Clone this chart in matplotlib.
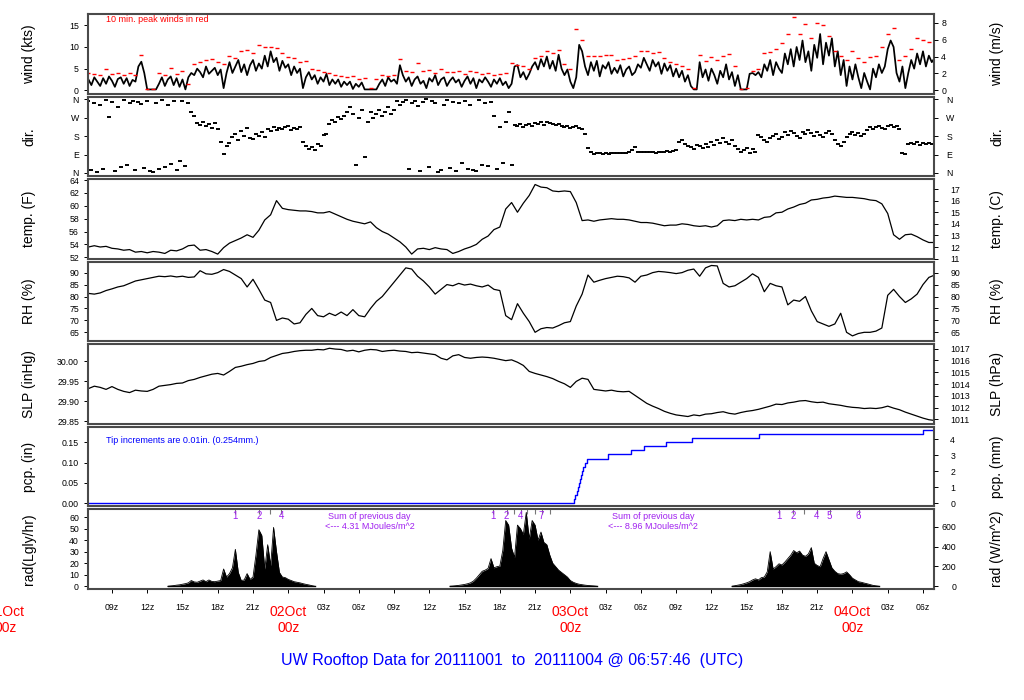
import numpy as np
import matplotlib
matplotlib.use("Agg")
import matplotlib.pyplot as plt

plt.rcParams['font.family'] = ['Liberation Sans', 'DejaVu Sans']

# ---------------- data (hours since 2011-10-01 00z) ----------------
T_FIRST = 7.0          # first sample hour
STEP15 = 0.25          # wind / direction sampling (h)
STEP30 = 0.5           # peak wind, temp, RH, SLP sampling (h)

wind_kts = [
    2.5, 1.2, 3.0, 2.0,  1.0, 2.8, 1.5, 3.2,  2.2, 0.8, 2.6, 3.0,  1.5, 2.8, 1.0, 2.4,
    2.0, 5.5, 6.6, 4.0,  0.2, 0.2, 0.2, 0.2,  1.5, 3.0, 1.0, 2.5,  3.2, 1.2, 2.8, 0.8,
    2.5, 0.2, 3.0, 4.0,  3.5, 5.0, 4.2, 3.0,  5.5, 3.8, 4.5, 5.2,  3.5, 4.8, 0.5, 4.0,
    6.5, 4.0, 5.5, 7.0,  4.2, 6.0, 3.5, 5.8,  7.0, 4.5, 6.2, 5.0,  8.0, 5.5, 9.0, 6.5,
    7.5, 4.5, 6.8, 5.2,  6.0, 3.5, 5.5, 4.0,  5.0, 0.5, 3.0, 4.2,  2.5, 3.5, 1.5, 3.0,
    2.0, 3.8, 1.2, 2.5,  1.5, 2.5, 0.8, 2.0,  1.2, 2.0, 0.3, 1.5,  0.8, 1.8, 0.2, 0.2,
    0.2, 0.2, 0.2, 1.5,  2.5, 1.0, 3.0, 2.0,  2.5, 1.5, 5.8, 3.5,  2.0, 3.0, 1.0, 2.5,
    3.2, 1.5, 2.2, 0.5,  2.8, 2.0, 3.5, 1.2,  2.5, 3.0, 1.0, 2.2,  3.0, 1.8, 2.5, 0.8,
    2.2, 3.2, 1.5, 2.8,  0.5, 2.5, 1.8, 3.0,  2.0, 0.8, 2.5, 1.5,  2.8, 1.2, 2.0, 0.5,
    1.5, 5.5, 5.8, 3.0,  4.2, 2.5, 3.8, 5.5,  6.5, 4.8, 7.2, 5.5,  7.8, 5.0, 6.8, 4.5,
    8.2, 5.0, 3.5, 4.8,  2.0, 0.5, 3.0, 10.5, 9.0, 5.5, 3.5, 6.5,  4.5, 6.8, 3.2, 5.8,
    5.0, 6.5, 3.8, 5.2,  4.0, 5.8, 3.2, 4.8,  5.5, 3.5, 4.2, 6.0,  5.2, 7.5, 6.0, 4.5,
    7.0, 5.5, 6.5, 3.8,  6.2, 4.5, 5.8, 3.2,  5.0, 3.0, 4.5, 2.0,  3.5, 1.0, 0.2, 0.2,
    6.5, 3.0, 4.8, 2.2,  5.0, 3.5, 1.5, 4.5,  3.0, 6.0, 2.5, 4.2,  1.0, 3.5, 0.2, 0.2,
    0.2, 3.8, 4.0, 3.5,  4.2, 3.0, 6.0, 4.5,  7.0, 3.5, 6.5, 5.0,  4.0, 8.5, 6.0, 9.5,
    5.5, 10.0, 7.0, 11.5, 6.5, 9.0, 4.5, 10.5, 7.5, 13.0, 6.0, 11.0, 8.0, 12.0, 5.5, 9.0,
    3.5, 7.0, 1.0, 5.5,  2.5, 6.0, 3.0, 0.5,  4.0, 2.0, 0.2, 5.0,  3.0, 6.0, 4.0, 5.5,
    9.5, 11.5, 10.0, 4.0, 2.0, 5.5, 0.5, 4.0, 7.0, 5.0, 8.5, 6.0,  9.0, 5.5, 8.0, 6.5,
    7.5]

peak_kts = [
    4.0, 3.8,  3.5, 5.0,  3.8, 4.0,  3.6, 4.0,  3.5, 8.2,  0.2, 0.2,  4.0, 3.5,  5.2, 3.8,
    4.5, 1.5,  6.0, 6.5,  7.0, 7.3,  6.5, 6.0,  8.0, 7.5,  9.0, 9.2,  8.5, 10.4, 10.0, 10.0,
    9.8, 8.5,  7.8, 7.5,  6.5, 6.8,  5.0, 4.8,  4.2, 4.0,  3.5, 3.2,  3.0, 3.3,  2.5, 2.8,
    0.5, 2.5,  3.5, 3.3,  3.5, 7.2,  4.5, 4.2,  6.2, 4.5,  4.8, 4.0,  5.0, 4.2,  4.2, 4.5,
    3.8, 4.5,  4.2, 3.8,  4.0, 3.5,  3.8, 4.0,  6.2, 5.8,  5.5, 5.0,  7.5, 8.0,  9.0, 8.5,
    9.2, 6.0,  5.0, 14.2, 11.5, 8.0, 8.0, 8.0,  8.2, 8.2,  7.0, 7.2,  7.5, 8.0,  9.0, 9.0,
    8.5, 8.8,  7.5, 6.5,  6.0, 5.5,  5.0, 0.5,  8.2, 6.8,  7.8, 7.0,  8.0, 8.3,  5.5, 0.2,
    0.5, 4.5,  5.0, 8.5,  8.8, 9.5,  11.0, 13.0, 17.0, 13.0, 15.3, 12.0, 15.5, 15.0, 12.5, 9.0,
    8.0, 7.0,  9.0, 7.5,  6.5, 7.8,  8.0, 10.0, 13.0, 14.5, 7.0, 8.0,  9.5, 12.0, 11.5, 11.2,
    10.5]

dir_deg = [
    350, 15, 340, 5,   330, 20, 355, 275,  345, 10, 320, 30,  355, 40, 340, 350,
    15, 345, 335, 25,  350, 10, 5, 340,    20, 355, 30, 330,  45, 350, 15, 60,
    350, 35, 340, 300, 280, 245, 235, 250, 230, 240, 220, 245, 215, 150, 95, 130,
    145, 175, 190, 160, 205, 180, 220, 170, 165, 190, 180, 200, 175, 215, 205, 225,
    210, 220, 215, 225, 230, 210, 220, 215, 225, 150, 130, 115, 125, 110, 140, 130,
    185, 190, 240, 260, 250, 275, 265, 280, 300, 320, 290, 40,  270, 310, 80, 250,
    300, 270, 290, 310, 280, 300, 320, 290, 310, 350, 330, 345, 355, 20, 340, 350,
    325, 10, 345, 360, 30, 350, 340, 5,    15, 330, 355, 25,   345, 10, 340, 50,
    350, 20, 330, 15,  10, 355, 40, 340,   35, 345, 280, 20,  225, 50, 250, 300,
    40, 235, 230, 240, 225, 235, 240, 230, 245, 240, 250, 235, 250, 245, 240, 235,
    240, 230, 225, 230, 220, 225, 230, 220, 215, 190, 120, 105, 95, 98, 96, 95,
    97, 95, 98, 96,    100, 97, 96, 99,   102, 110, 125, 105, 104, 103, 105, 102,
    104, 100, 105, 102, 103, 106, 104, 108, 110, 150, 160, 140, 130, 125, 115, 135,
    130, 120, 140, 125, 150, 135, 160, 145, 170, 150, 140, 160, 130, 115, 105, 110,
    120, 100, 115, 105, 185, 175, 160, 150, 170, 180, 190, 165, 175, 200, 185, 205,
    195, 180, 170, 200, 190, 210, 195, 180, 200, 185, 175, 195, 205, 190, 160, 140,
    130, 150, 175, 190, 200, 185, 195, 180, 190, 210, 225, 215, 225, 230, 220, 215,
    230, 235, 225, 230, 215, 100, 95, 140, 145, 140, 150, 137, 145, 140, 148, 142,
    145]

temp_F = [
    53.6, 53.8, 53.6, 53.7, 53.4, 53.3, 53.1, 53.2, 52.8, 52.9, 52.7, 52.9, 52.8, 52.6,
    53.1, 53.0, 53.3, 53.8, 53.9, 53.1, 53.2, 52.9, 52.5, 53.5, 54.2, 54.6, 55.0, 55.5,
    55.1, 56.2, 57.8, 58.6, 60.8, 59.6, 59.4, 59.3, 59.2, 59.2, 59.1, 58.9, 58.9, 59.1,
    58.7, 58.3, 57.9, 57.6, 57.4, 57.2, 57.5, 56.6, 56.0, 55.6, 55.0, 54.4, 53.6, 52.5,
    53.3, 53.4, 53.2, 53.5, 53.3, 53.2, 52.6, 52.9, 53.3, 53.6, 54.0, 54.8, 55.3, 56.3,
    56.7, 59.5, 60.5, 59.0, 60.4, 61.6, 63.3, 62.9, 62.8, 62.3, 62.2, 62.3, 62.2, 60.5,
    57.7, 57.8, 57.6, 57.8, 57.9, 58.0, 57.9, 57.9, 57.8, 57.6, 57.4, 57.4, 57.3, 57.1,
    56.9, 57.0, 57.0, 57.2, 57.1, 56.9, 56.8, 56.9, 56.7, 56.9, 57.7, 57.8, 57.7, 57.9,
    57.8, 57.9, 57.8, 58.2, 58.3, 58.9, 59.0, 59.5, 59.8, 60.2, 60.4, 60.9, 61.0, 61.2,
    61.3, 61.5, 61.4, 61.3, 61.3, 61.2, 61.1, 60.9, 60.8, 60.3, 58.8, 55.5, 54.8, 55.5,
    55.6, 55.2, 54.7, 54.3, 54.3]

rh_pct = [
    81.3, 81.0, 81.5, 82.5, 83.2, 84.0, 84.5, 85.5, 86.5, 87.0, 87.5, 88.0, 88.5, 88.3,
    88.6, 88.2, 88.5, 88.0, 88.2, 90.8, 89.5, 89.3, 90.0, 91.3, 90.5, 89.0, 87.5, 84.0,
    87.2, 83.0, 78.5, 77.5, 70.0, 71.0, 70.5, 68.5, 69.0, 72.5, 75.0, 72.0, 71.5, 73.0,
    72.0, 73.5, 72.0, 74.5, 72.0, 71.5, 75.0, 78.0, 80.0, 83.0, 86.0, 89.0, 92.0, 91.5,
    88.5, 86.5, 84.0, 81.0, 83.0, 85.0, 84.5, 85.5, 84.8, 85.2, 84.5, 84.0, 84.8, 83.0,
    82.5, 72.0, 70.3, 77.0, 73.0, 69.5, 65.0, 66.5, 67.0, 66.8, 67.8, 69.0, 69.5, 76.0,
    81.0, 89.0, 86.0, 86.8, 87.5, 88.0, 88.5, 88.3, 87.8, 86.0, 88.5, 89.0, 90.0, 90.5,
    90.3, 90.0, 89.6, 90.0, 91.0, 91.5, 88.5, 92.0, 93.0, 92.8, 85.5, 84.0, 84.5, 86.0,
    87.5, 89.5, 88.0, 82.0, 85.5, 84.5, 84.0, 76.5, 78.5, 78.0, 80.0, 74.0, 69.5, 68.5,
    67.5, 68.5, 73.0, 65.0, 63.5, 64.5, 65.0, 65.0, 65.5, 66.8, 80.5, 83.0, 80.0, 77.5,
    79.0, 81.0, 85.0, 88.0, 89.0]

slp_inhg = [
    29.932, 29.938, 29.935, 29.930, 29.937, 29.930, 29.925, 29.922, 29.928, 29.926,
    29.925, 29.930, 29.938, 29.940, 29.942, 29.945, 29.946, 29.952, 29.955, 29.960,
    29.964, 29.968, 29.970, 29.966, 29.975, 29.985, 29.988, 29.992, 29.995, 30.000,
    30.002, 30.010, 30.015, 30.020, 30.022, 30.025, 30.027, 30.028, 30.028, 30.030,
    30.029, 30.033, 30.031, 30.030, 30.026, 30.028, 30.024, 30.028, 30.030, 30.029,
    30.025, 30.027, 30.028, 30.026, 30.025, 30.022, 30.023, 30.021, 30.019, 30.017,
    30.008, 30.004, 30.014, 30.017, 30.010, 30.008, 30.010, 30.011, 30.010, 30.008,
    30.005, 30.002, 30.004, 29.998, 29.990, 29.975, 29.970, 29.966, 29.962, 29.957,
    29.950, 29.944, 29.935, 29.950, 29.958, 29.955, 29.930, 29.928, 29.926, 29.928,
    29.925, 29.924, 29.925, 29.915, 29.905, 29.895, 29.888, 29.882, 29.875, 29.870,
    29.866, 29.864, 29.862, 29.866, 29.864, 29.868, 29.869, 29.872, 29.874, 29.870,
    29.868, 29.872, 29.875, 29.877, 29.880, 29.884, 29.888, 29.893, 29.892, 29.896,
    29.898, 29.901, 29.902, 29.899, 29.897, 29.898, 29.894, 29.892, 29.890, 29.887,
    29.885, 29.884, 29.882, 29.883, 29.882, 29.884, 29.888, 29.883, 29.879, 29.873,
    29.868, 29.863, 29.858, 29.854, 29.852]

# cumulative precipitation (tipping bucket, 0.01 in per tip)
pcp_hours = [7.0, 48.30, 48.42, 48.59, 48.65, 48.72, 48.82, 48.90, 48.99, 49.10, 49.24,
             49.44, 51.23, 53.16, 54.27, 56.11, 58.33, 64.06, 77.97, 79.0]
pcp_in = [0.00, 0.01, 0.02, 0.03, 0.04, 0.05, 0.06, 0.07, 0.08, 0.09, 0.10,
          0.11, 0.12, 0.13, 0.14, 0.15, 0.16, 0.17, 0.18, 0.18]

# solar radiation (Langley/hr), 15-min samples for each daylight period
rad_starts = [13.75, 37.75, 61.75]
rad_day1 = [0.0, 0.3, 0.6, 1.0, 1.3, 1.8, 2.3, 3.0, 5.0, 3.8, 3.5, 4.5, 5.5, 4.0, 5.5, 4.2, 4.0,
            4.5, 5.0, 15.0, 8.0, 11.0, 16.0, 32.0, 12.0, 5.0, 5.5, 11.0, 6.0, 8.0, 27.0, 49.0,
            44.0, 15.0, 36.0, 18.0, 51.0, 30.0, 12.0, 8.0, 7.5, 6.0, 5.0, 4.0, 3.5, 3.0, 2.3,
            1.7, 1.2, 0.6, 0.0]
rad_day2 = [0.0, 0.2, 0.5, 0.8, 1.2, 1.6, 2.2, 3.0, 4.5, 7.0, 10.0, 13.0, 14.0, 15.5, 24.0,
            16.0, 17.0, 17.5, 31.0, 57.0, 53.0, 33.0, 25.0, 53.0, 50.0, 45.0, 64.0, 41.0, 57.0,
            53.0, 40.0, 47.0, 38.0, 36.0, 27.0, 20.0, 17.0, 14.0, 12.0, 10.0, 8.0, 5.0, 3.5,
            2.5, 1.8, 1.4, 1.0, 0.7, 0.5, 0.3, 0.0]
rad_day3 = [0.0, 0.5, 1.0, 1.5, 2.2, 3.0, 4.0, 5.5, 6.5, 5.5, 7.5, 8.0, 12.5, 30.0, 15.0, 17.0,
            19.5, 18.5, 21.0, 24.0, 27.0, 31.0, 29.0, 30.5, 27.0, 26.0, 28.0, 33.5, 20.0, 18.0,
            17.0, 24.0, 30.0, 23.0, 16.0, 13.0, 11.0, 10.5, 11.0, 12.5, 10.0, 7.0, 5.5, 4.0,
            3.5, 2.8, 2.2, 1.5, 0.8, 0.4, 0.0]
rad_days = [rad_day1, rad_day2, rad_day3]

rad_mark_hours = [19.43, 21.50, 22.47, 23.41, 41.38, 42.57, 43.19, 43.76, 44.33, 44.98,
                  45.55, 46.26, 65.71, 66.93, 67.90, 68.98, 70.05, 72.52]
rad_mark_labels = ['1', '2', '', '4', '1', '2', '', '4', '', '', '7', '', '1', '2', '',
                   '4', '5', '6']
sum_hours = [30.93, 55.03]
sum_mj = [4.31, 8.96]

day_hours = [0, 24, 48, 72]
day_names = ['01Oct', '02Oct', '03Oct', '04Oct']
X_START, X_END = 6.9628, 78.9628   # 06:57:46 Oct 1 .. 06:57:46 Oct 4
title = "UW Rooftop Data for 20111001  to  20111004 @ 06:57:46  (UTC)"

# ---------------- figure ----------------
W, H = 1024, 700
fig = plt.figure(figsize=(W / 100, H / 100), dpi=100)
PX = 0.72
LEFT, RIGHT = 88.0, 934.3
TOP0, PSTEP, PH = 14.0, 82.55, 79.5
TICK_FS = 6.3
LAB_FS = 10

t15 = T_FIRST + STEP15 * np.arange(len(wind_kts))
t30 = T_FIRST + STEP30 * np.arange(len(temp_F))


def panel(i, ylim, left_label, right_label):
    top = TOP0 + i * PSTEP
    ax = fig.add_axes([LEFT / W, 1 - (top + PH) / H, (RIGHT - LEFT) / W, PH / H])
    ax.set_xlim(X_START, X_END)
    ax.set_ylim(*ylim)
    for s in ax.spines.values():
        s.set_linewidth(1.5)
        s.set_color('#4a4a4a')
    ax.tick_params(axis='y', direction='out', length=4 * PX, width=0.7,
                   labelsize=TICK_FS, pad=5 * PX)
    ax.tick_params(axis='x', bottom=False, labelbottom=False)
    yc = 1 - (top + PH / 2) / H
    fig.text(29 / W, yc, left_label, rotation=90, ha='center', va='center', fontsize=LAB_FS)
    fig.text(997 / W, yc, right_label, rotation=90, ha='center', va='center', fontsize=LAB_FS)
    return ax


def right_axis(ax, f, ticks, labels=None, pad_px=3, ha='left'):
    ax2 = ax.twinx()
    lo, hi = ax.get_ylim()
    ax2.set_ylim(f(lo), f(hi))
    ax2.set_yticks(ticks)
    if labels is not None:
        ax2.set_yticklabels(labels)
    ax2.tick_params(axis='y', direction='out', length=4 * PX, width=0.7,
                    labelsize=TICK_FS, pad=pad_px * PX)
    for lab in ax2.get_yticklabels():
        lab.set_horizontalalignment(ha)
    for s in ax2.spines.values():
        s.set_visible(False)
    return ax2


# 1 wind
ax = panel(0, (-0.74, 17.62), 'wind (kts)', 'wind (m/s)')
ax.plot(t15, wind_kts, color='black', lw=1.25)
ax.plot(t30, peak_kts, ls='none', marker='_', ms=3, mew=1.0, color='red')
ax.set_yticks([0, 5, 10, 15])
ax.text(0.021, 0.935, '10 min. peak winds in red', transform=ax.transAxes, color='red',
        fontsize=6.5, ha='left', va='center')
right_axis(ax, lambda v: v * 0.514444, [0, 2, 4, 6, 8], pad_px=3)

# 2 direction
ax = panel(1, (-14.9, 373.4), 'dir.', 'dir.')
ax.plot(t15, dir_deg, ls='none', marker='_', ms=2.8, mew=1.4, color='black')
ax.set_yticks([0, 90, 180, 270, 360])
ax.set_yticklabels(['N', 'E', 'S', 'W', 'N'])
right_axis(ax, lambda v: v, [0, 90, 180, 270, 360], ['N', 'E', 'S', 'W', 'N'], pad_px=8)

# 3 temperature
ax = panel(2, (51.8, 64.14), 'temp. (F)', 'temp. (C)')
ax.plot(t30, temp_F, color='black', lw=0.9)
ax.set_yticks(np.arange(52, 65, 2))
right_axis(ax, lambda v: (v - 32) / 1.8, np.arange(11, 18), pad_px=12)

# 4 RH
ax = panel(3, (61.3, 94.6), 'RH (%)', 'RH (%)')
ax.plot(t30, rh_pct, color='black', lw=0.9)
ax.set_yticks(np.arange(65, 91, 5))
right_axis(ax, lambda v: v, np.arange(65, 91, 5), pad_px=12)

# 5 SLP
ax = panel(4, (29.844, 30.0432), 'SLP (inHg)', 'SLP (hPa)')
ax.plot(t30, slp_inhg, color='black', lw=0.9)
ax.set_yticks([29.85, 29.90, 29.95, 30.00])
ax.set_yticklabels(['29.85', '29.90', '29.95', '30.00'])
right_axis(ax, lambda v: v * 33.8639, np.arange(1011, 1018), pad_px=12)

# 6 precipitation
ax = panel(5, (-0.0073, 0.1882), 'pcp. (in)', 'pcp. (mm)')
ax.step(pcp_hours, pcp_in, where='post', color='blue', lw=1.0)
ax.set_yticks([0.0, 0.05, 0.10, 0.15])
ax.set_yticklabels(['0.00', '0.05', '0.10', '0.15'])
ax.text(0.021, 0.833, 'Tip increments are 0.01in. (0.254mm.)', transform=ax.transAxes,
        color='blue', fontsize=6.5, ha='left', va='center')
right_axis(ax, lambda v: v * 25.4, [0, 1, 2, 3, 4], pad_px=12)

# 7 radiation
ax = panel(6, (-2.16, 66.7), 'rad(Lgly/hr)', 'rad (W/m^2)')
for start, vals in zip(rad_starts, rad_days):
    tt = start + STEP15 * np.arange(len(vals))
    ax.fill_between(tt, 0, vals, color='black', lw=0)
    ax.plot(tt, vals, color='black', lw=0.6)
    ax.plot([tt[0], tt[-1]], [0, 0], color='black', lw=1.0)
ax.set_yticks(np.arange(0, 61, 10))
right_axis(ax, lambda v: v * 11.622, [0, 200, 400, 600], pad_px=18, ha='right')
xt = ax.get_xaxis_transform()
ax.vlines(rad_mark_hours, 0.94, 1.0, transform=xt, color='#777777', lw=0.8)
for h, lab in zip(rad_mark_hours, rad_mark_labels):
    if lab:
        ax.text(h, 0.915, lab, transform=xt, color='#A020F0', fontsize=7,
                ha='center', va='center')
for h, v in zip(sum_hours, sum_mj):
    ax.text(h, 0.915, 'Sum of previous day', transform=xt, color='#A020F0',
            fontsize=6.5, ha='center', va='center')
    ax.text(h, 0.78, '<--- %.2f MJoules/m^2' % v, transform=xt, color='#A020F0',
            fontsize=6.5, ha='center', va='center')

xticks = np.arange(9, 79, 3)
ax.set_xticks(xticks)
ax.set_xticklabels(['' if h % 24 == 0 else '%02dz' % (h % 24) for h in xticks])
ax.tick_params(axis='x', bottom=True, labelbottom=True, direction='out', length=4 * PX,
               width=0.7, labelsize=6.3, pad=10 * PX)
for h, name in zip(day_hours, day_names):
    ax.annotate(name, xy=(h, 0), xycoords=xt, xytext=(0, -23.5), textcoords='offset pixels',
                ha='center', va='center', color='red', fontsize=10, annotation_clip=False)
    ax.annotate('00z', xy=(h, 0), xycoords=xt, xytext=(0, -39), textcoords='offset pixels',
                ha='center', va='center', color='red', fontsize=10, annotation_clip=False)

fig.text(0.5, 1 - 661 / H, title, color='blue', fontsize=11.5, ha='center', va='center')

fig.savefig('out.png', dpi=100)
